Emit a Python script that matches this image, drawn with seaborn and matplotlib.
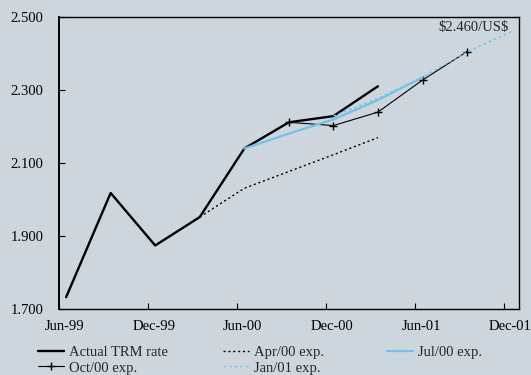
import numpy as np
import pandas as pd
import seaborn as sns
import matplotlib.pyplot as plt
from matplotlib.transforms import ScaledTranslation

# meses contados desde Jun-99 (0); los puntos caen a mitad de mes
mes_real = [0.5, 3.5, 6.5, 9.5, 12.5, 15.5, 18.5, 21.5]
trm_real = [1.731, 2.017, 1.873, 1.951, 2.139, 2.211, 2.228, 2.310]

mes_abr = [9.5, 12.5, 15.5, 18.5, 21.5]
exp_abr = [1.951, 2.030, 2.076, 2.122, 2.169]

mes_jul = [12.5, 15.5, 18.5, 21.5, 24.5]
exp_jul = [2.139, 2.180, 2.219, 2.272, 2.334]

mes_oct = [15.5, 18.5, 21.5, 24.5, 27.5]
exp_oct = [2.211, 2.202, 2.239, 2.327, 2.405]

mes_ene = [18.5, 21.5, 24.5, 27.5, 30.5]
exp_ene = [2.228, 2.277, 2.335, 2.404, 2.460]

x_ticks = [0, 6, 12, 18, 24, 30]
x_labels = ["Jun-99", "Dec-99", "Jun-00", "Dec-00", "Jun-01", "Dec-01"]
y_ticks = [1.7, 1.9, 2.1, 2.3, 2.5]

fondo = "#CED6DD"
azul = "#6EC3EE"

sns.set_style("ticks", {"axes.facecolor": fondo, "figure.facecolor": fondo})
plt.rcParams["font.family"] = ["Liberation Serif", "DejaVu Serif"]

fig = plt.figure(figsize=(5.31, 3.75), dpi=100)
ax = fig.add_axes([0.1105, 0.1773, 0.867, 0.7774])

sns.lineplot(x=mes_real, y=trm_real, ax=ax, color="black", lw=1.7, label="Actual TRM rate")
sns.lineplot(x=mes_oct, y=exp_oct, ax=ax, color="black", lw=0.8, marker="+",
             markersize=6, markeredgewidth=1.0, markeredgecolor="black", label="Oct/00 exp.")
sns.lineplot(x=mes_abr, y=exp_abr, ax=ax, color="black", lw=1.0, ls=(0, (1.5, 2)), label="Apr/00 exp.")
sns.lineplot(x=mes_ene, y=exp_ene, ax=ax, color=azul, lw=1.0, ls=(0, (2, 2)), label="Jan/01 exp.")
sns.lineplot(x=mes_jul, y=exp_jul, ax=ax, color=azul, lw=1.6, label="Jul/00 exp.")

ax.set_xlim(0, 31)
ax.set_ylim(1.7, 2.5)
ax.set_xticks(x_ticks)
ax.set_xticklabels(x_labels)
ax.set_yticks(y_ticks)
ax.set_yticklabels([f"{v:.3f}" for v in y_ticks])
ax.tick_params(direction="in", length=4, width=0.8, labelsize=10.5, colors="black")
ax.tick_params(axis="x", pad=8)
ax.tick_params(axis="y", pad=11)
# etiquetas del eje x un poco corridas a la derecha, como en el original
desplaza = ScaledTranslation(6 / 100, 0, fig.dpi_scale_trans)
for lbl in ax.get_xticklabels():
    lbl.set_transform(lbl.get_transform() + desplaza)
for s in ax.spines.values():
    s.set_linewidth(1.0)
    s.set_color("black")
ax.spines["left"].set_linewidth(1.4)

ax.text(30.3, 2.47, "\\$2.460/US\\$", ha="right", va="center", fontsize=10.5)

handles, labels = ax.get_legend_handles_labels()
ax.get_legend().remove()
# una leyenda por columna para respetar la posición de cada una
columnas = [(0, 1), (2, 3), (4,)]
x_col = [38, 223, 387]
for idx, xc in zip(columnas, x_col):
    fig.legend([handles[i] for i in idx], [labels[i] for i in idx], loc="upper left",
               bbox_to_anchor=(xc / 531, 1 - 346 / 375), frameon=False, fontsize=10.5,
               handlelength=1.8, handletextpad=0.3, labelspacing=0.15,
               borderaxespad=0, borderpad=0)

fig.savefig("out.png", dpi=100, facecolor=fondo)
